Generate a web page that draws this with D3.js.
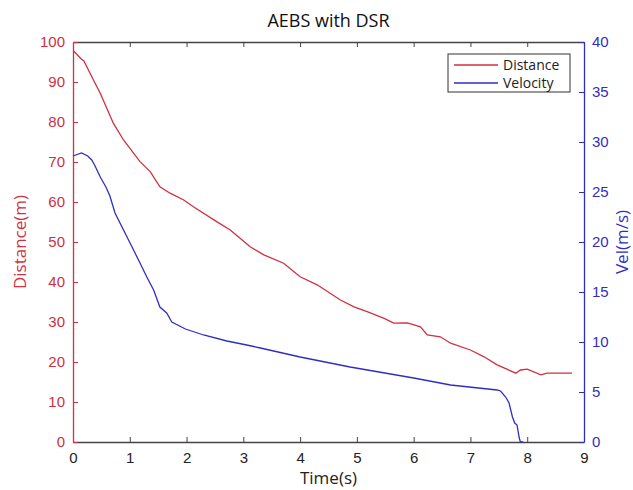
<!DOCTYPE html>
<html>
<head>
<meta charset="utf-8">
<script src="https://cdn.jsdelivr.net/npm/d3@7"></script>
<style>
  body { margin: 0; background: #fff; }
  svg { font-family: "Open Sans", sans-serif; }
</style>
</head>
<body>
<div id="chart"></div>
<script>
// Distance (m) vs time (s)
var distTime = [0, 0.02, 0.15, 0.19, 0.36, 0.48, 0.71, 0.89, 1.18, 1.36, 1.53, 1.71, 1.95, 2.12, 2.53, 2.77, 3.12, 3.36, 3.71, 4.0, 4.3, 4.71, 4.95, 5.18, 5.48, 5.65, 5.89, 6.12, 6.24, 6.47, 6.65, 7.0, 7.24, 7.47, 7.8, 7.88, 8.0, 8.24, 8.35, 8.79];
var distVal  = [97.5, 97.6, 95.7, 95.3, 90.5, 87.2, 79.7, 75.5, 70.1, 67.6, 63.8, 62.2, 60.5, 58.8, 55.1, 53, 48.8, 46.8, 44.7, 41.3, 39.3, 35.5, 33.8, 32.6, 30.9, 29.7, 29.8, 28.8, 26.8, 26.3, 24.7, 23, 21.3, 19.3, 17.2, 18, 18.2, 16.8, 17.2, 17.2];

// Velocity (m/s) vs time (s)
var velTime = [0, 0.15, 0.26, 0.33, 0.38, 0.48, 0.58, 0.65, 0.74, 0.89, 1.04, 1.18, 1.3, 1.42, 1.53, 1.65, 1.74, 1.98, 2.3, 2.71, 3.06, 3.3, 4.0, 4.88, 6.0, 6.65, 7.47, 7.53, 7.62, 7.68, 7.74, 7.78, 7.82, 7.86, 7.88, 7.93];
var velVal  = [28.6, 28.9, 28.6, 28.2, 27.7, 26.5, 25.5, 24.6, 22.9, 21.2, 19.5, 17.9, 16.5, 15.2, 13.5, 12.9, 12.0, 11.3, 10.7, 10.1, 9.7, 9.4, 8.5, 7.5, 6.4, 5.7, 5.2, 5.1, 4.5, 3.9, 2.5, 1.9, 1.7, 0.4, 0, 0];

var xTicks = [0, 1, 2, 3, 4, 5, 6, 7, 8, 9];
var distTicks = [0, 10, 20, 30, 40, 50, 60, 70, 80, 90, 100];
var velTicks = [0, 5, 10, 15, 20, 25, 30, 35, 40];

var seriesNames = ["Distance", "Velocity"];

var red = "#d0303f", blue = "#2f2fbf", axisGray = "#444";

// dimensions
var margin = {top: 42, right: 49, bottom: 48, left: 73},
    width = 633 - margin.left - margin.right,
    height = 490 - margin.top - margin.bottom;

var svg = d3.select("#chart").append("svg")
    .attr("width", 633)
    .attr("height", 490);
var g = svg.append("g")
    .attr("transform", "translate(" + margin.left + "," + margin.top + ")");

var x = d3.scaleLinear().domain([0, 9]).range([0, width]);
var yL = d3.scaleLinear().domain([0, 100]).range([height, 0]);
var yR = d3.scaleLinear().domain([0, 40]).range([height, 0]);

// axes (ticks inward, MATLAB-like)
function styleAxis(sel, color) {
  sel.select(".domain").attr("stroke", color).attr("stroke-width", 1.3);
  sel.selectAll(".tick line").attr("stroke", color);
  sel.selectAll(".tick text").attr("fill", color).style("font-size", "15px");
}

var xAxis = g.append("g")
    .attr("transform", "translate(0," + height + ")")
    .call(d3.axisBottom(x).tickValues(xTicks).tickSizeInner(-5).tickSizeOuter(0).tickPadding(10));
styleAxis(xAxis, axisGray);
xAxis.selectAll(".tick text").attr("fill", "#222");

var xTop = g.append("g")
    .call(d3.axisTop(x).tickValues(xTicks).tickSizeInner(-5).tickSizeOuter(0).tickFormat(""));
styleAxis(xTop, axisGray);

var leftAxis = g.append("g")
    .call(d3.axisLeft(yL).tickValues(distTicks).tickSizeInner(-5).tickSizeOuter(0).tickPadding(8));
styleAxis(leftAxis, red);

var rightAxis = g.append("g")
    .attr("transform", "translate(" + width + ",0)")
    .call(d3.axisRight(yR).tickValues(velTicks).tickSizeInner(-5).tickSizeOuter(0).tickPadding(8));
styleAxis(rightAxis, blue);

// lines
var distData = distTime.map(function(t, i) { return {t: t, v: distVal[i]}; });
var velData = velTime.map(function(t, i) { return {t: t, v: velVal[i]}; });

g.append("path")
    .datum(distData)
    .attr("fill", "none")
    .attr("stroke", red)
    .attr("stroke-width", 1.3)
    .attr("d", d3.line().x(function(d) { return x(d.t); }).y(function(d) { return yL(d.v); }));

g.append("path")
    .datum(velData)
    .attr("fill", "none")
    .attr("stroke", blue)
    .attr("stroke-width", 1.3)
    .attr("d", d3.line().x(function(d) { return x(d.t); }).y(function(d) { return yR(d.v); }));

// title and labels
svg.append("text")
    .attr("x", margin.left + width / 2)
    .attr("y", 27)
    .attr("text-anchor", "middle")
    .style("font-size", "18px")
    .attr("fill", "#111")
    .text("AEBS with DSR");

svg.append("text")
    .attr("x", margin.left + width / 2)
    .attr("y", 484)
    .attr("text-anchor", "middle")
    .style("font-size", "17px")
    .attr("fill", "#222")
    .text("Time(s)");

svg.append("text")
    .attr("transform", "translate(26," + (margin.top + height / 2) + ") rotate(-90)")
    .attr("text-anchor", "middle")
    .style("font-size", "17px")
    .attr("fill", red)
    .text("Distance(m)");

svg.append("text")
    .attr("transform", "translate(628," + (margin.top + height / 2) + ") rotate(-90)")
    .attr("text-anchor", "middle")
    .style("font-size", "17px")
    .attr("fill", blue)
    .text("Vel(m/s)");

// legend
var legend = svg.append("g").attr("transform", "translate(448,54)");
legend.append("rect")
    .attr("width", 122)
    .attr("height", 38)
    .attr("fill", "#fff")
    .attr("stroke", "#333")
    .attr("stroke-width", 1);
[red, blue].forEach(function(c, i) {
  legend.append("line")
      .attr("x1", 6).attr("x2", 50)
      .attr("y1", 11 + i * 18).attr("y2", 11 + i * 18)
      .attr("stroke", c).attr("stroke-width", 1.3);
  legend.append("text")
      .attr("x", 55).attr("y", 16 + i * 18)
      .style("font-size", "14px")
      .attr("fill", "#222")
      .text(seriesNames[i]);
});
</script>
</body>
</html>
